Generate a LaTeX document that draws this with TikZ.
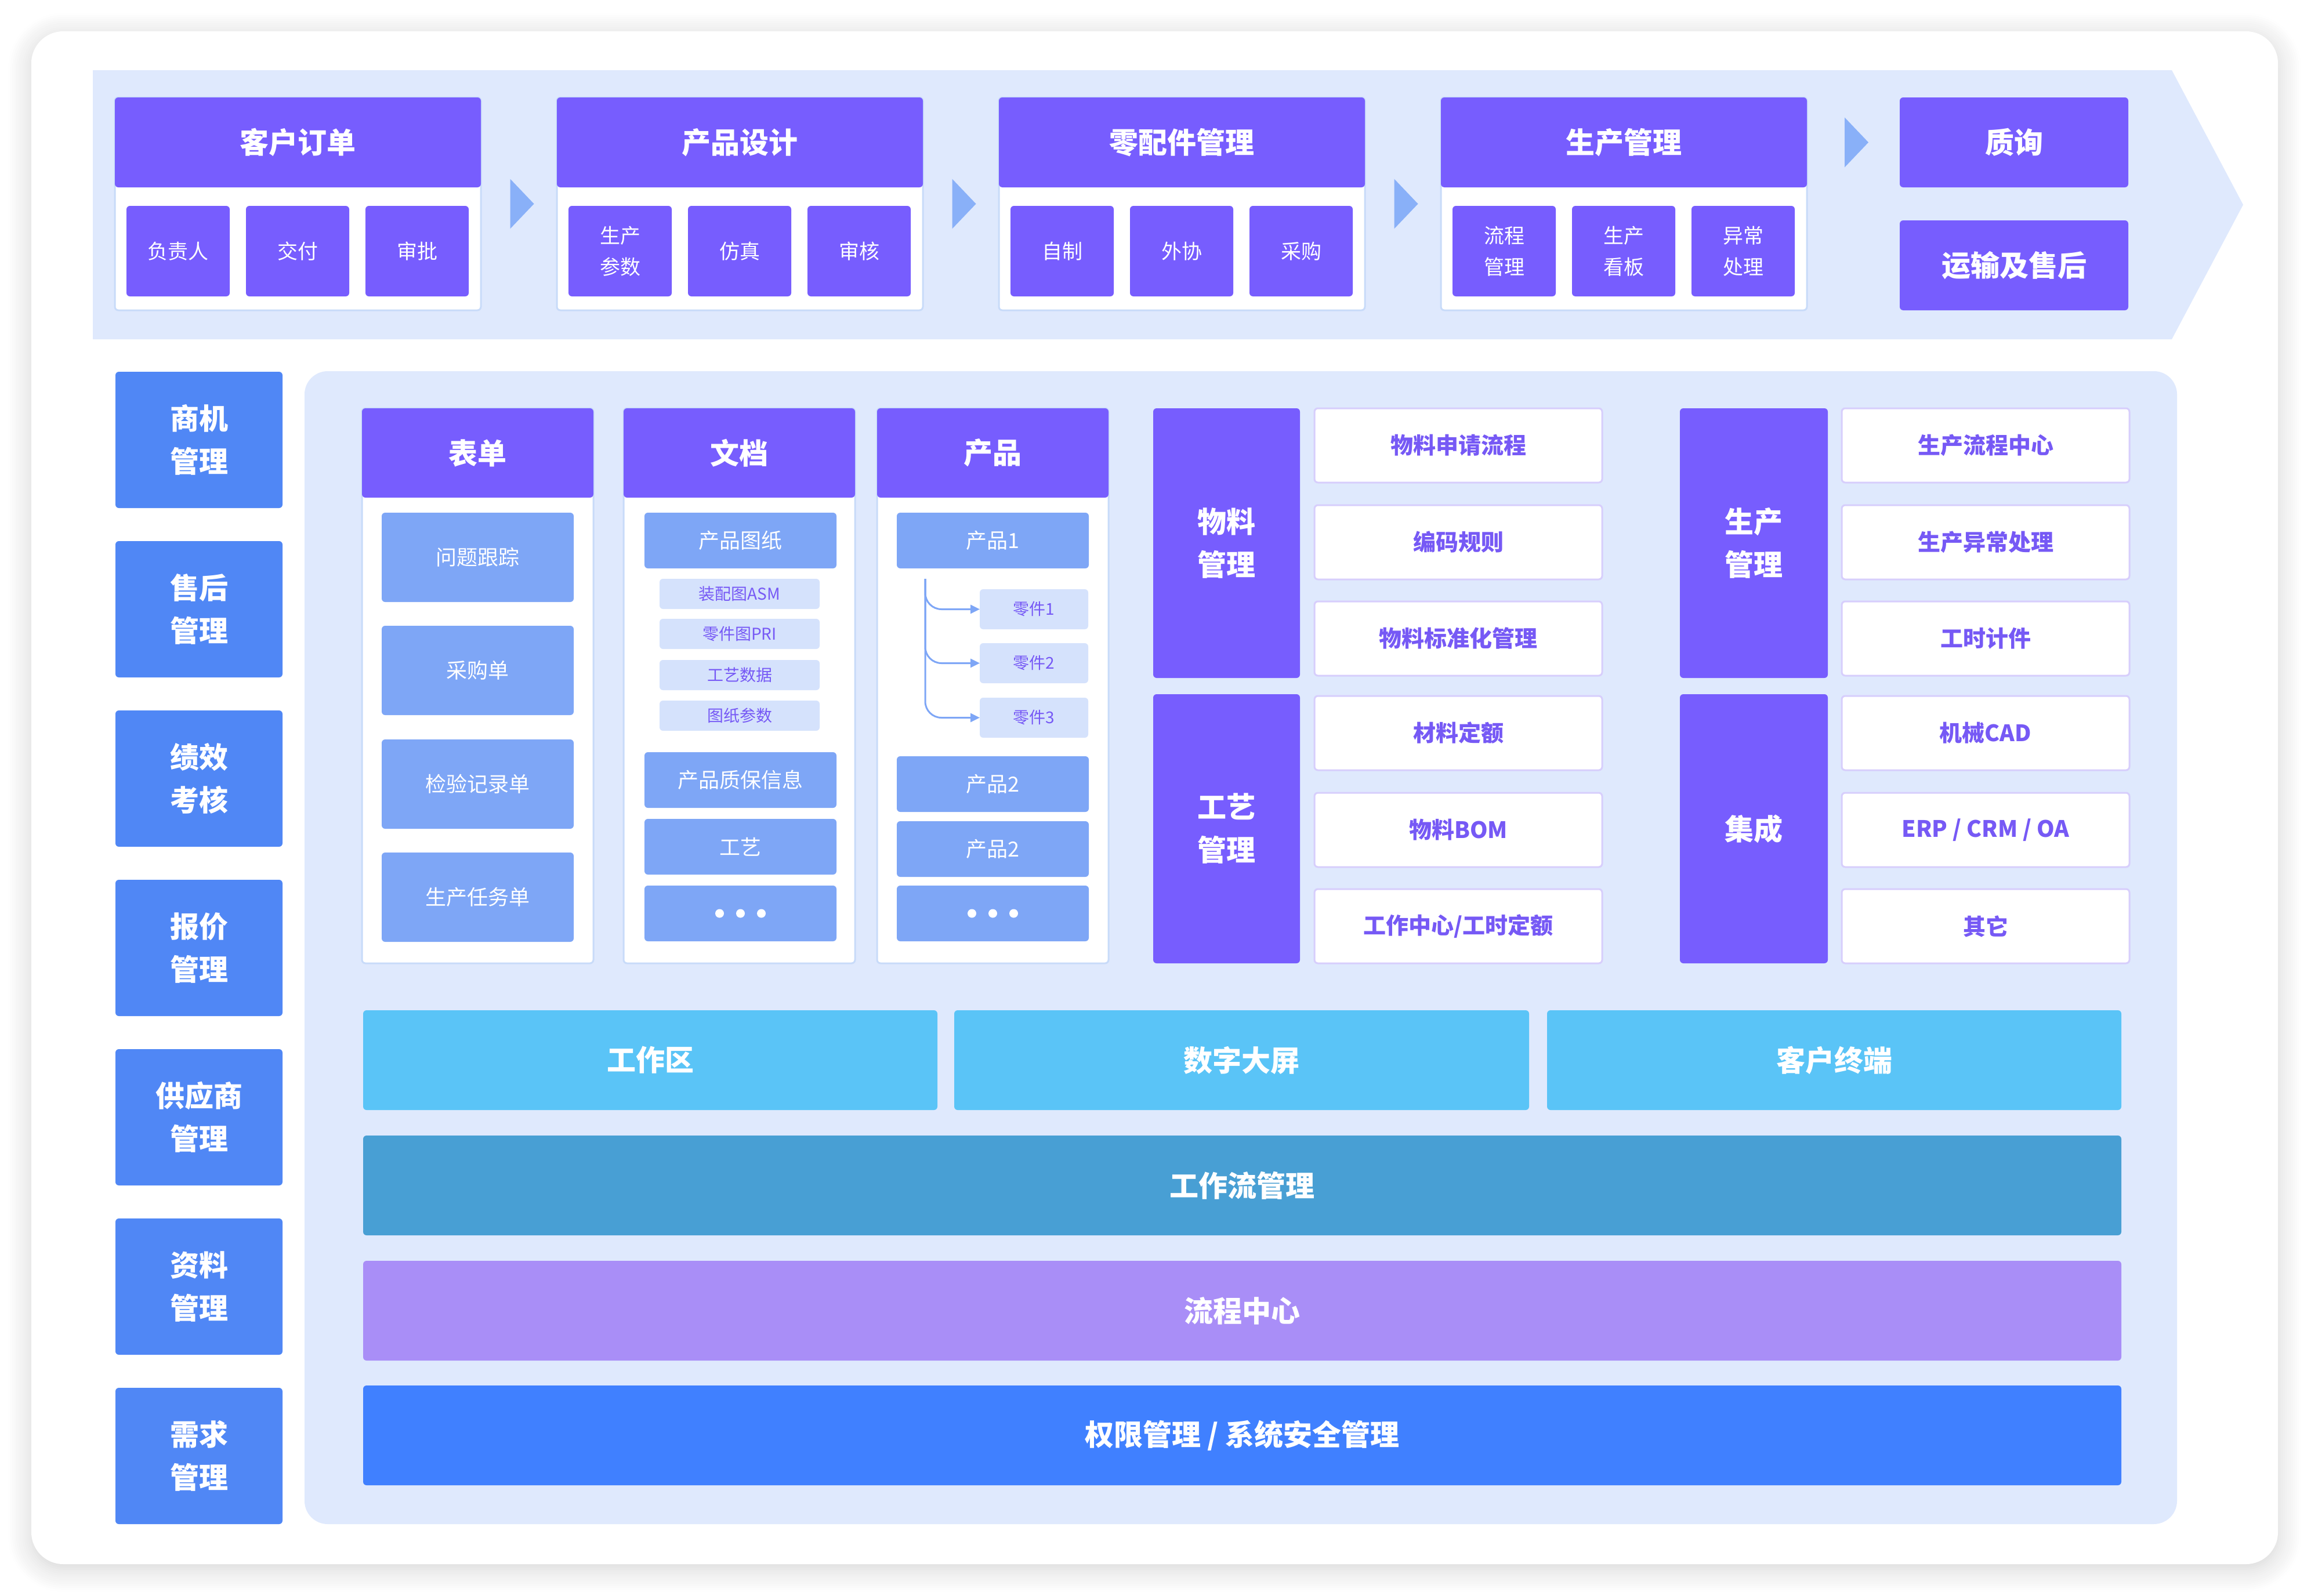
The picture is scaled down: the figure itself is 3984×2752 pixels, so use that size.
\documentclass[tikz,border=0pt]{standalone}
\usepackage{fontspec}
\setmainfont{Noto Sans CJK SC}
\usetikzlibrary{calc,arrows.meta,shadows.blur}
\definecolor{hpurple}{HTML}{775DFE}
\definecolor{leftblue}{HTML}{5087F5}
\definecolor{itemblue}{HTML}{7EA6F6}
\definecolor{bandbg}{HTML}{DFE9FD}
\definecolor{lightitem}{HTML}{D5E2FC}
\definecolor{arrowc}{HTML}{89B0F8}
\definecolor{tpurple}{HTML}{7659F5}
\definecolor{wsky}{HTML}{5AC4F7}
\definecolor{wflow}{HTML}{489FD4}
\definecolor{lcenter}{HTML}{A98EF7}
\definecolor{perm}{HTML}{4080FF}
\definecolor{pborder}{HTML}{C8DBF9}
\definecolor{wborder}{HTML}{D7CEFC}
\newcommand\fzHead{\fontsize{50}{74}\selectfont\bfseries}
\newcommand\fzSub{\fontsize{35}{54}\selectfont}
\newcommand\fzItem{\fontsize{36}{44}\selectfont}
\newcommand\fzSmall{\fontsize{28}{34}\selectfont}
\newcommand\fzWhite{\fontsize{39}{46}\selectfont\bfseries}
\begin{document}
\begin{tikzpicture}[x=1pt,y=-1pt,
  base/.style={anchor=north west,inner sep=0pt,outer sep=0pt,rounded corners=6pt,align=center},
  hdr/.style={base,fill=hpurple,text=white,font=\fzHead},
  gpanel/.style={base,fill=white,draw=pborder,line width=3pt},
  subbox/.style={base,fill=hpurple,text=white,font=\fzSub,minimum width=178pt,minimum height=156pt},
  lbox/.style={base,fill=leftblue,text=white,font=\fzHead,minimum width=288pt,minimum height=235pt},
  item/.style={base,fill=itemblue,text=white,font=\fzItem,minimum width=331pt},
  smallbox/.style={base,fill=lightitem,text=tpurple,font=\fzSmall,minimum height=52pt},
  wbox/.style={base,fill=white,draw=wborder,line width=3pt,text=tpurple,font=\fzWhite,minimum width=496pt,minimum height=128pt},
  rowbox/.style={base,text=white,font=\fzHead,minimum height=172pt},
  tree/.style={draw=itemblue,line width=3pt,rounded corners=28pt,-{Triangle[length=16pt,width=15pt]}},
  flowarrow/.style={fill=arrowc},
  dotmark/.style={fill=white}
]
\useasboundingbox (0,0) rectangle (3984,2752);
% card
\fill[white,rounded corners=55pt,blur shadow={shadow xshift=0pt,shadow yshift=-8pt,shadow blur radius=40pt,shadow blur steps=12,shadow opacity=18}] (54,54) rectangle (3927,2697);
% top band
\fill[bandbg] (160,121) -- (3744,121) -- (3867,353) -- (3744,585) -- (160,585) -- cycle;
\foreach \i/\x/\t/\ta/\tb/\tc in {1/198/客户订单/负责人/交付/审批,
  2/960/产品设计/{生产\\参数}/仿真/审核,
  3/1722/零配件管理/自制/外协/采购,
  4/2484/生产管理/{流程\\管理}/{生产\\看板}/{异常\\处理}} {
  \node[gpanel,minimum width=631pt,minimum height=367pt] (gp\i) at (\x,168) {};
  \node[hdr,minimum width=631pt,minimum height=155pt] (g\i) at (\x,168) {\t};
  \node[subbox] (g\i a) at (\x+20,355) {\ta};
  \node[subbox] (g\i b) at (\x+226,355) {\tb};
  \node[subbox] (g\i c) at (\x+432,355) {\tc};
}
\node[hdr,minimum width=394pt,minimum height=155pt] (q) at (3275,168) {质询};
\node[hdr,minimum width=394pt,minimum height=155pt] (ys) at (3275,380) {运输及售后};
\foreach \l/\r in {gp1/gp2,gp2/gp3,gp3/gp4,gp4/q} {
  \coordinate (m) at ($(\l.east |- \r.west)!.5!(\r.west)$);
  \fill[flowarrow] ($(m)+(-15,-43)$) -- ($(m)+(26,0)$) -- ($(m)+(-15,43)$) -- cycle;
}
% main panel
\fill[bandbg,rounded corners=40pt] (525,640) rectangle (3753,2628);
% left column
\foreach \i/\t in {0/{商机\\管理},1/{售后\\管理},2/{绩效\\考核},3/{报价\\管理},4/{供应商\\管理},5/{资料\\管理},6/{需求\\管理}}
  \node[lbox] (l\i) at (199,641+292*\i) {\t};
% inner columns
\foreach \i/\x/\t in {1/624/表单,2/1075/文档,3/1512/产品} {
  \node[gpanel,minimum width=399pt,minimum height=957pt] (cp\i) at (\x,704) {};
  \node[hdr,minimum width=399pt,minimum height=154pt] (c\i) at (\x,704) {\t};
}
\foreach \j/\y/\t in {1/884/问题跟踪,2/1079/采购单,3/1275/检验记录单,4/1470/生产任务单}
  \node[item,minimum height=154pt] (fa\j) at (658,\y) {\t};
\node[item,minimum height=96pt] (da) at (1111,884) {产品图纸};
\foreach \j/\y/\t in {1/998/装配图ASM,2/1067/零件图PRI,3/1138/工艺数据,4/1208/图纸参数}
  \node[smallbox,minimum width=276pt] (ds\j) at (1137,\y) {\t};
\node[item,minimum height=96pt] (db) at (1111,1297) {产品质保信息};
\node[item,minimum height=96pt] (dc) at (1111,1412) {工艺};
\node[item,minimum height=96pt] (dd) at (1111,1527) {};
\node[item,minimum height=96pt] (pa) at (1546,884) {产品1};
\foreach \j/\y in {1/1016,2/1109,3/1203}
  \node[smallbox,minimum width=187pt,minimum height=69pt] (pz\j) at (1689,\y) {零件\j};
\node[item,minimum height=96pt] (pb) at (1546,1304) {产品2};
\node[item,minimum height=96pt] (pc) at (1546,1416) {产品2};
\node[item,minimum height=96pt] (pd) at (1546,1527) {};
\foreach \n in {dd,pd}
  \foreach \k in {-1,0,1}
    \fill[dotmark] ($(\n.center)+(\k*36,0)$) circle (7.5);
\coordinate (tr) at (1595,998);
\foreach \j in {1,2,3} \draw[tree] (tr) |- (pz\j.west);
% right blocks
\node[hdr,minimum width=253pt,minimum height=465pt] (wl) at (1988,704) {物料\\管理};
\node[hdr,minimum width=253pt,minimum height=464pt] (gy) at (1988,1197) {工艺\\管理};
\node[hdr,minimum width=255pt,minimum height=465pt] (sc) at (2896,704) {生产\\管理};
\node[hdr,minimum width=255pt,minimum height=464pt] (jc) at (2896,1197) {集成};
\foreach \j/\y/\t in {1/704/物料申请流程,2/871/编码规则,3/1037/物料标准化管理,4/1200/材料定额,5/1367/物料BOM,6/1533/{工作中心/工时定额}}
  \node[wbox] (wa\j) at (2266,\y) {\t};
\foreach \j/\y/\t in {1/704/生产流程中心,2/871/生产异常处理,3/1037/工时计件,4/1200/机械CAD,5/1367/{ERP / CRM / OA},6/1533/其它}
  \node[wbox] (wb\j) at (3175,\y) {\t};
% bottom rows
\node[rowbox,fill=wsky,minimum width=990pt] (w1) at (626,1742) {工作区};
\node[rowbox,fill=wsky,minimum width=991pt] (w2) at (1645,1742) {数字大屏};
\node[rowbox,fill=wsky,minimum width=990pt] (w3) at (2667,1742) {客户终端};
\node[rowbox,fill=wflow,minimum width=3031pt] (r1) at (626,1958) {工作流管理};
\node[rowbox,fill=lcenter,minimum width=3031pt] (r2) at (626,2174) {流程中心};
\node[rowbox,fill=perm,minimum width=3031pt] (r3) at (626,2389) {权限管理 / 系统安全管理};
\end{tikzpicture}
\end{document}
